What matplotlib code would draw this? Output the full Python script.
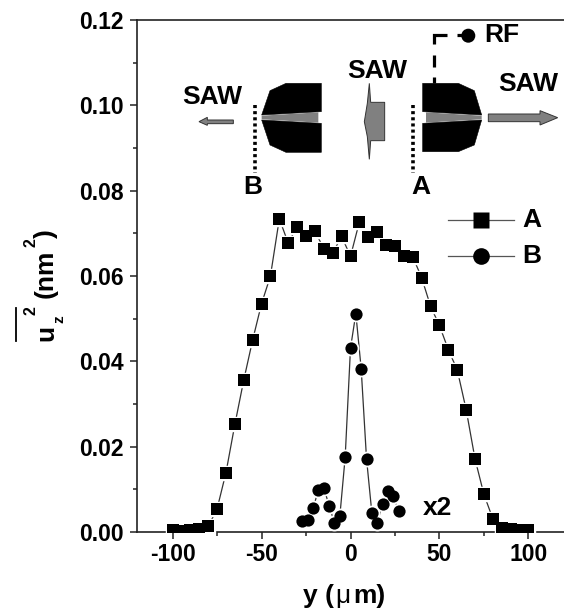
import matplotlib
matplotlib.use('Agg')
import matplotlib.pyplot as plt
from matplotlib.patches import Polygon, Circle

plt.rcParams['font.family'] = ['Liberation Sans', 'DejaVu Sans']
plt.rcParams['font.weight'] = 'bold'
plt.rcParams['axes.unicode_minus'] = False

# curve A, every 5 um
y_a = [-100, -95, -90, -85, -80, -75, -70, -65, -60, -55, -50, -45, -40, -35, -30, -25, -20, -15, -10, -5,
       0, 5, 10, 15, 20, 25, 30, 35, 40, 45, 50, 55, 60, 65, 70, 75, 80, 85, 90, 95, 100]
u_a = [0.0005, 0.0003, 0.0005, 0.0008, 0.0013, 0.0054, 0.0139, 0.0252, 0.0356, 0.0450, 0.0535, 0.0600,
       0.0734, 0.0677, 0.0716, 0.0693, 0.0705, 0.0664, 0.0654, 0.0693, 0.0646, 0.0727, 0.0691, 0.0703,
       0.0673, 0.0670, 0.0646, 0.0645, 0.0596, 0.0529, 0.0484, 0.0427, 0.0380, 0.0287, 0.0171, 0.0088,
       0.0031, 0.0009, 0.0006, 0.0005, 0.0005]

# curve B, every 3 um (x2)
y_b = [-27, -24, -21, -18, -15, -12, -9, -6, -3, 0, 3, 6, 9, 12, 15, 18, 21, 24, 27]
u_b = [0.0025, 0.0029, 0.0056, 0.0099, 0.0103, 0.0062, 0.0021, 0.0037, 0.0175, 0.0431, 0.0512, 0.0383,
       0.0172, 0.0045, 0.0021, 0.0066, 0.0095, 0.0084, 0.0050]

x_ticks = [-100, -50, 0, 50, 100]
x_minor = [-75, -25, 25, 75]
y_ticks = [0.00, 0.02, 0.04, 0.06, 0.08, 0.10, 0.12]
y_minor = [0.01, 0.03, 0.05, 0.07, 0.09, 0.11]
y_tick_labels = ['0.00', '0.02', '0.04', '0.06', '0.08', '0.10', '0.12']

# sample sketch outline, pixels of the 3x crop
block_l_top = [(574, 250), (468, 250), (420, 272), (395, 345), (574, 335)]
block_l_bot = [(395, 360), (420, 435), (468, 457), (574, 457), (574, 370)]
wedge_l = [(395, 347), (565, 337), (565, 368), (395, 358)]
block_r_top = [(878, 250), (985, 250), (1033, 272), (1055, 345), (878, 335)]
block_r_bot = [(878, 370), (1055, 360), (1033, 435), (985, 455), (878, 455)]
wedge_r = [(888, 337), (1055, 347), (1055, 358), (888, 368)]
middle = [(718, 250), (722, 307), (764, 307), (764, 422), (722, 422), (718, 478), (712, 410), (703, 365), (712, 310)]
arrow_r = [(1075, 342), (1230, 342), (1230, 332), (1283, 353), (1230, 375), (1230, 365), (1075, 365)]
arrow_l = [(310, 360), (232, 360), (232, 352), (207, 365), (232, 376), (232, 371), (310, 371)]
rf_feed = [[(911, 250), (911, 232)], [(911, 200), (911, 165)], [(911, 132), (911, 104), (950, 104)], [(982, 104), (1010, 104)]]


def crop(pts):
    return [(130 + px / 3, py / 3) for px, py in pts]


fig = plt.figure(figsize=(5.64, 6.16), dpi=100)
ax = fig.add_axes([137 / 564, 1 - 532 / 616, 427 / 564, 512 / 616])


def curve(x, y, marker, size, z):
    ax.plot(x, y, color='#333333', lw=0.9, zorder=z)
    # white halo leaves the small gaps in the line next to each marker
    ax.plot(x, y, ls='none', marker=marker, ms=size + 1.6, mfc='white', mec='white', zorder=z + 0.1)
    ax.plot(x, y, ls='none', marker=marker, ms=size, mfc='black', mec='black', mew=0, zorder=z + 0.2)


curve(y_a, u_a, 's', 8.2, 3)
curve(y_b, u_b, 'o', 8.8, 4)

ax.set_xlim(-120, 120)
ax.set_ylim(0, 0.12)
ax.set_xticks(x_ticks)
ax.set_xticks(x_minor, minor=True)
ax.set_yticks(y_ticks)
ax.set_yticklabels(y_tick_labels)
ax.set_yticks(y_minor, minor=True)
ax.tick_params(which='major', length=5, width=1.1, labelsize=16.5, color='#222222')
ax.tick_params(which='minor', length=3, width=1.1, color='#222222')
ax.tick_params(axis='x', which='major', pad=3)
ax.tick_params(axis='y', which='major', pad=4.5)
ax.spines['right'].set_visible(False)
for s in ['left', 'top', 'bottom']:
    ax.spines[s].set_linewidth(1.2)
    ax.spines[s].set_color('#222222')

# overlay in image pixels for the sketch and the loose labels
ov = fig.add_axes([0, 0, 1, 1])
ov.set_xlim(0, 564)
ov.set_ylim(616, 0)
ov.axis('off')
ov.patch.set_alpha(0)

for pts in [block_l_top, block_l_bot, block_r_top, block_r_bot]:
    ov.add_patch(Polygon(crop(pts), fc='black', ec='black', lw=0.4))
for pts in [wedge_l, wedge_r]:
    ov.add_patch(Polygon(crop(pts), fc='#808080', ec='none'))
for pts in [middle, arrow_r, arrow_l]:
    ov.add_patch(Polygon(crop(pts), fc='#808080', ec='#333333', lw=0.7))

# measurement lines A and B
for lx in [255, 413.3]:
    ov.plot([lx, lx], [104.5, 173], color='black', lw=2.6, ls=(0, (0.85, 0.85)))
# RF feed
for seg in rf_feed:
    pts = crop(seg)
    ov.plot([p[0] for p in pts], [p[1] for p in pts], color='black', lw=2.3, solid_capstyle='butt', solid_joinstyle='miter')
ov.add_patch(Circle((468.3, 35.7), 7, fc='black', ec='none'))

ov.text(502, 35.5, 'RF', fontsize=19, ha='center', va='center')
ov.text(377, 70.5, 'SAW', fontsize=19, ha='center', va='center')
ov.text(528, 84, 'SAW', fontsize=19, ha='center', va='center')
ov.text(212, 97.5, 'SAW', fontsize=19, ha='center', va='center')
ov.text(252.5, 187.5, 'B', fontsize=19, ha='center', va='center')
ov.text(420.5, 187.5, 'A', fontsize=19, ha='center', va='center')
ov.text(437, 508, 'x2', fontsize=19, ha='center', va='center')

# legend by hand
for ly, m, lab in [(220, 's', 'A'), (256, 'o', 'B')]:
    ov.plot([448, 514], [ly, ly], color='#555555', lw=0.9)
    ov.plot([481], [ly], ls='none', marker=m, ms=12, mfc='black', mec='none')
    ov.text(532, ly, lab, fontsize=19, ha='center', va='center')

# axis titles
ov.text(303, 603, 'y (', fontsize=19, ha='left', va='baseline')
ov.text(335, 603, 'μ', fontsize=19, ha='left', va='baseline', weight='normal')
ov.text(353, 603, 'm)', fontsize=19, ha='left', va='baseline')

ov.plot([15.5, 15.5], [308, 341], color='black', lw=1.3)
ov.text(53, 333, 'u', fontsize=19, rotation=90, ha='center', va='baseline', rotation_mode='anchor')
ov.text(63, 319, 'z', fontsize=11, rotation=90, ha='center', va='baseline', rotation_mode='anchor')
ov.text(36, 311, '2', fontsize=11.5, rotation=90, ha='center', va='baseline', rotation_mode='anchor')
ov.text(53, 274, '(nm', fontsize=19, rotation=90, ha='center', va='baseline', rotation_mode='anchor')
ov.text(36, 243, '2', fontsize=11.5, rotation=90, ha='center', va='baseline', rotation_mode='anchor')
ov.text(53, 234, ')', fontsize=19, rotation=90, ha='center', va='baseline', rotation_mode='anchor')

fig.savefig('out.png', dpi=100)
